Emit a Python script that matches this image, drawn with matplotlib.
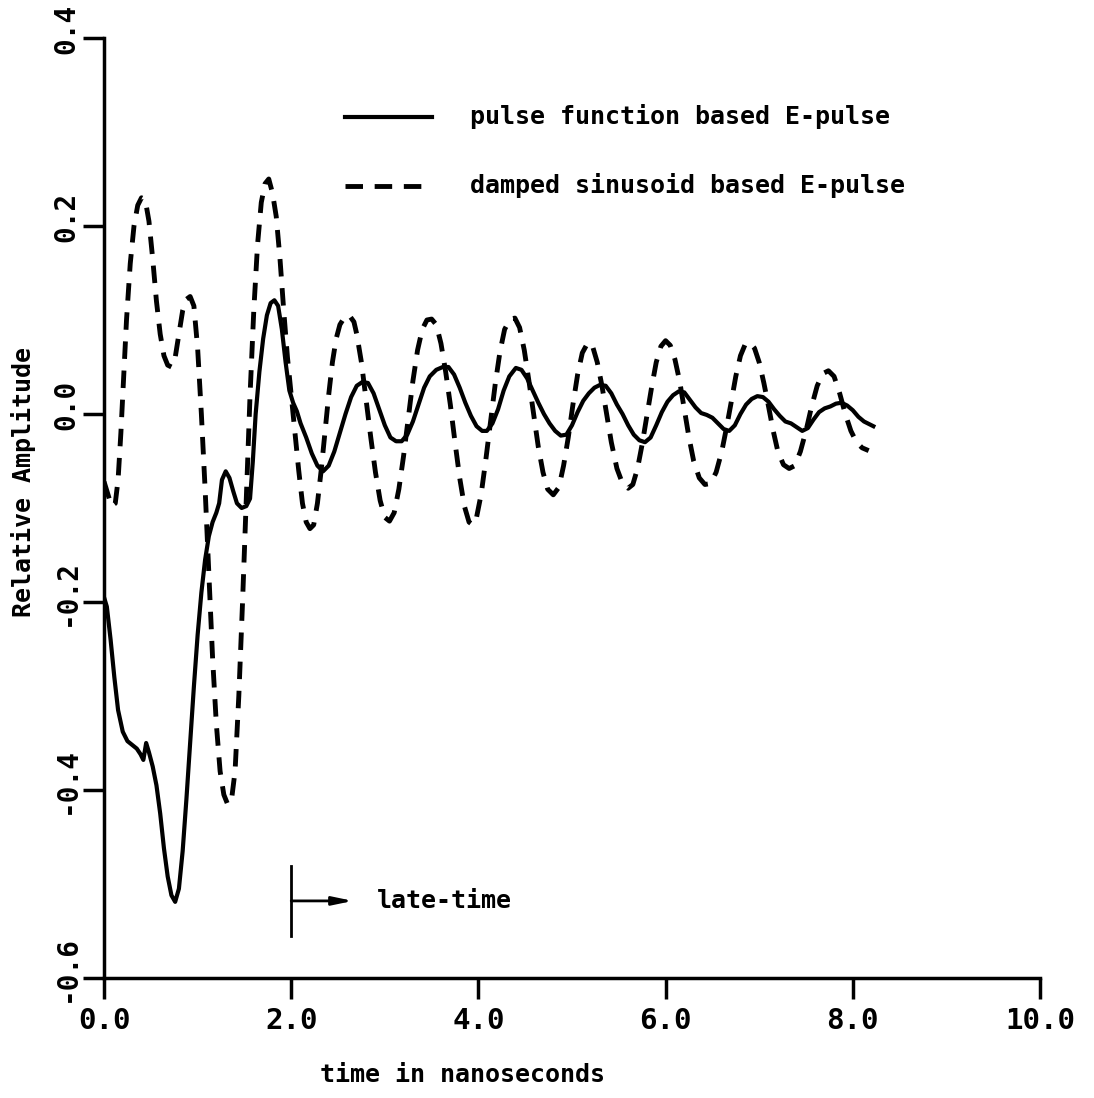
import numpy as np
import matplotlib.pyplot as plt
import matplotlib.transforms as mtransforms

plt.rcParams['font.family'] = ['DejaVu Sans Mono', 'DejaVu Sans']
plt.rcParams['font.weight'] = 'bold'

# E-pulse basado en funciones pulso (ns, amplitud relativa)
t_pulse = [0.00, 0.03, 0.07, 0.11, 0.15, 0.20, 0.25, 0.30, 0.35, 0.39,
           0.42, 0.45, 0.48, 0.52, 0.56, 0.60, 0.64, 0.68, 0.72, 0.76,
           0.80, 0.84, 0.88, 0.92, 0.96, 1.00, 1.04, 1.08, 1.12, 1.16,
           1.20, 1.23, 1.26, 1.30, 1.34, 1.38, 1.42, 1.47, 1.52, 1.56,
           1.59, 1.62, 1.66, 1.70, 1.74, 1.78, 1.82, 1.86, 1.90, 1.94,
           1.98, 2.02, 2.06, 2.10, 2.16, 2.22, 2.28, 2.34, 2.40, 2.46,
           2.52, 2.58, 2.64, 2.70, 2.76, 2.82, 2.88, 2.94, 3.00, 3.06,
           3.12, 3.18, 3.24, 3.30, 3.36, 3.42, 3.48, 3.55, 3.62, 3.68,
           3.74, 3.80, 3.86, 3.92, 3.98, 4.04, 4.09, 4.15, 4.21, 4.27,
           4.33, 4.40, 4.46, 4.52, 4.58, 4.64, 4.70, 4.76, 4.82, 4.88,
           4.94, 5.00, 5.06, 5.12, 5.18, 5.24, 5.30, 5.36, 5.42, 5.48,
           5.54, 5.60, 5.66, 5.72, 5.78, 5.84, 5.90, 5.96, 6.02, 6.08,
           6.14, 6.20, 6.26, 6.32, 6.38, 6.44, 6.50, 6.56, 6.62, 6.68,
           6.74, 6.80, 6.86, 6.92, 6.98, 7.04, 7.10, 7.16, 7.22, 7.28,
           7.34, 7.40, 7.46, 7.52, 7.58, 7.64, 7.70, 7.76, 7.82, 7.88,
           7.94, 8.00, 8.06, 8.12, 8.18, 8.22]
v_pulse = [-0.195, -0.205, -0.240, -0.280, -0.315, -0.338, -0.348, -0.352, -0.356, -0.362,
           -0.368, -0.350, -0.360, -0.375, -0.395, -0.425, -0.462, -0.492, -0.512, -0.519,
           -0.505, -0.465, -0.410, -0.350, -0.290, -0.235, -0.190, -0.155, -0.130, -0.115,
           -0.105, -0.095, -0.070, -0.061, -0.068, -0.082, -0.095, -0.100, -0.098, -0.090,
           -0.050, 0.000, 0.045, 0.080, 0.105, 0.118, 0.121, 0.115, 0.090, 0.055,
           0.025, 0.012, 0.003, -0.010, -0.025, -0.042, -0.055, -0.061, -0.055, -0.040,
           -0.020, 0.000, 0.018, 0.030, 0.034, 0.033, 0.022, 0.005, -0.012, -0.025,
           -0.029, -0.029, -0.022, -0.008, 0.010, 0.028, 0.040, 0.047, 0.050, 0.050,
           0.042, 0.028, 0.012, -0.002, -0.013, -0.018, -0.018, -0.010, 0.005, 0.025,
           0.040, 0.049, 0.047, 0.038, 0.025, 0.012, 0.000, -0.010, -0.018, -0.023,
           -0.022, -0.012, 0.002, 0.014, 0.022, 0.028, 0.031, 0.030, 0.022, 0.010,
           0.000, -0.012, -0.022, -0.028, -0.030, -0.025, -0.012, 0.002, 0.013, 0.020,
           0.024, 0.023, 0.015, 0.007, 0.001, -0.001, -0.004, -0.010, -0.016, -0.018,
           -0.012, 0.000, 0.010, 0.016, 0.019, 0.018, 0.013, 0.005, -0.002, -0.008,
           -0.010, -0.014, -0.018, -0.015, -0.006, 0.002, 0.006, 0.008, 0.011, 0.012,
           0.009, 0.004, -0.003, -0.008, -0.011, -0.013]

# E-pulse basado en sinusoides amortiguadas
t_damped = [0.00, 0.04, 0.08, 0.12, 0.15, 0.18, 0.21, 0.24, 0.28, 0.32,
            0.36, 0.40, 0.44, 0.48, 0.52, 0.56, 0.60, 0.64, 0.68, 0.72,
            0.76, 0.80, 0.84, 0.88, 0.92, 0.96, 1.00, 1.04, 1.08, 1.12,
            1.16, 1.20, 1.24, 1.28, 1.32, 1.36, 1.40, 1.44, 1.48, 1.52,
            1.56, 1.60, 1.64, 1.68, 1.72, 1.76, 1.80, 1.84, 1.88, 1.92,
            1.96, 2.00, 2.04, 2.08, 2.12, 2.16, 2.20, 2.24, 2.28, 2.32,
            2.36, 2.40, 2.44, 2.48, 2.52, 2.57, 2.62, 2.67, 2.70, 2.75,
            2.80, 2.85, 2.90, 2.95, 3.00, 3.05, 3.10, 3.15, 3.20, 3.25,
            3.30, 3.35, 3.40, 3.45, 3.50, 3.55, 3.60, 3.65, 3.70, 3.75,
            3.80, 3.85, 3.90, 3.94, 3.98, 4.03, 4.08, 4.13, 4.18, 4.23,
            4.28, 4.34, 4.39, 4.44, 4.49, 4.54, 4.59, 4.64, 4.69, 4.74,
            4.80, 4.86, 4.91, 4.96, 5.01, 5.06, 5.11, 5.17, 5.22, 5.27,
            5.32, 5.37, 5.42, 5.48, 5.54, 5.60, 5.65, 5.70, 5.75, 5.80,
            5.85, 5.90, 5.95, 6.00, 6.05, 6.10, 6.15, 6.20, 6.25, 6.30,
            6.36, 6.42, 6.48, 6.54, 6.60, 6.65, 6.70, 6.75, 6.80, 6.85,
            6.90, 6.95, 7.00, 7.05, 7.10, 7.15, 7.20, 7.26, 7.32, 7.38,
            7.44, 7.50, 7.56, 7.62, 7.68, 7.74, 7.80, 7.86, 7.92, 7.98,
            8.04, 8.10, 8.17]
v_damped = [-0.072, -0.085, -0.098, -0.095, -0.070, -0.020, 0.040, 0.100, 0.160, 0.200,
            0.222, 0.230, 0.228, 0.205, 0.165, 0.120, 0.085, 0.062, 0.052, 0.050,
            0.060, 0.085, 0.110, 0.122, 0.125, 0.115, 0.070, 0.000, -0.080, -0.170,
            -0.260, -0.330, -0.380, -0.405, -0.415, -0.412, -0.380, -0.300, -0.200, -0.090,
            0.020, 0.110, 0.180, 0.225, 0.245, 0.250, 0.235, 0.210, 0.165, 0.110,
            0.060, 0.020, -0.020, -0.060, -0.095, -0.115, -0.122, -0.118, -0.095, -0.060,
            -0.020, 0.020, 0.055, 0.080, 0.095, 0.103, 0.105, 0.098, 0.085, 0.055,
            0.015, -0.025, -0.062, -0.092, -0.110, -0.114, -0.105, -0.080, -0.045, -0.005,
            0.035, 0.068, 0.090, 0.100, 0.101, 0.095, 0.075, 0.045, 0.010, -0.030,
            -0.068, -0.098, -0.115, -0.118, -0.110, -0.085, -0.048, -0.008, 0.032, 0.066,
            0.090, 0.101, 0.102, 0.092, 0.068, 0.035, 0.000, -0.035, -0.062, -0.080,
            -0.086, -0.078, -0.055, -0.025, 0.010, 0.042, 0.065, 0.076, 0.072, 0.055,
            0.030, 0.000, -0.030, -0.058, -0.074, -0.079, -0.075, -0.058, -0.032, -0.002,
            0.028, 0.055, 0.072, 0.078, 0.073, 0.058, 0.035, 0.005, -0.025, -0.050,
            -0.068, -0.075, -0.074, -0.062, -0.040, -0.015, 0.012, 0.040, 0.062, 0.074,
            0.076, 0.070, 0.055, 0.033, 0.008, -0.018, -0.040, -0.054, -0.058, -0.055,
            -0.040, -0.018, 0.008, 0.030, 0.043, 0.046, 0.040, 0.022, 0.000, -0.018,
            -0.030, -0.036, -0.039]

x_ticks = [0.0, 2.0, 4.0, 6.0, 8.0, 10.0]
y_ticks = [-0.6, -0.4, -0.2, 0.0, 0.2, 0.4]

t_late = 2.0  # comienzo del late-time

fig = plt.figure(figsize=(10.94, 10.98), dpi=100)
ax = fig.add_axes([0.0951, 0.1093, 0.8555, 0.8561])

dash = (0, (3.6, 2.4))
ax.plot(t_pulse, v_pulse, '-', color='black', lw=3.0, solid_joinstyle='round')
ax.plot(t_damped, v_damped, color='black', lw=3.5, linestyle=dash)

ax.set_xlim(0, 10)
ax.set_ylim(-0.6, 0.4)
ax.set_xticks(x_ticks)
ax.set_yticks(y_ticks)
ax.set_xticklabels([f'{v:.1f}' for v in x_ticks], fontsize=21, fontweight='bold')
ax.set_yticklabels([f'{v:.1f}' for v in y_ticks], fontsize=20, fontweight='bold',
                   rotation=90, va='center')
ax.tick_params(axis='both', direction='out', length=15, width=2.5)
ax.tick_params(axis='x', pad=6)
ax.tick_params(axis='y', pad=2)

# las etiquetas del eje y van un poco por encima de su marca
shift = mtransforms.ScaledTranslation(0, 9/100, fig.dpi_scale_trans)
for lbl in ax.get_yticklabels():
    lbl.set_transform(lbl.get_transform() + shift)

for s in ['top', 'right']:
    ax.spines[s].set_visible(False)
for s in ['left', 'bottom']:
    ax.spines[s].set_linewidth(2.5)

# leyenda dibujada a mano
ax.plot([0.2575, 0.3504], [0.916, 0.916], '-', color='black', lw=3.0,
        transform=ax.transAxes)
ax.plot([0.2575, 0.3504], [0.8426, 0.8426], color='black', lw=3.5,
        linestyle=dash, transform=ax.transAxes)
ax.text(0.391, 0.916, 'pulse function based E-pulse', fontsize=18,
        va='center', ha='left', transform=ax.transAxes)
ax.text(0.391, 0.8426, 'damped sinusoid based E-pulse', fontsize=18,
        va='center', ha='left', transform=ax.transAxes)

# marca de late-time
ax.plot([t_late, t_late], [-0.481, -0.555], '-', color='black', lw=2.0)
ax.annotate('', xy=(2.66, -0.518), xytext=(t_late, -0.518),
            arrowprops=dict(arrowstyle='-|>,head_length=1.2,head_width=0.25',
                            color='black', lw=2.0, shrinkA=0, shrinkB=0))
ax.text(2.92, -0.518, 'late-time', fontsize=18, va='center', ha='left')

fig.text(463/1094, 1 - 1075/1098, 'time in nanoseconds', fontsize=18,
         ha='center', va='center')
fig.text(24/1094, 1 - 482/1098, 'Relative Amplitude', fontsize=18,
         ha='center', va='center', rotation=90)

fig.savefig('out.png', dpi=100, facecolor='white')
